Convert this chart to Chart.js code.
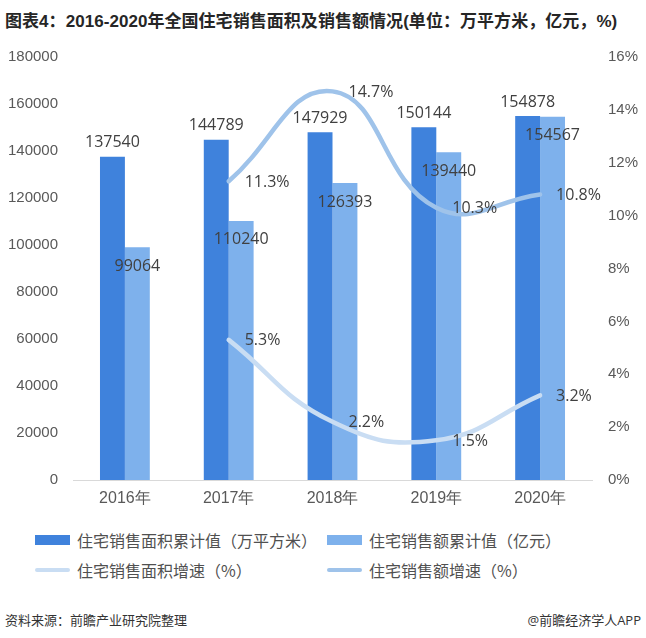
<!DOCTYPE html>
<html>
<head>
<meta charset="utf-8">
<script src="https://cdn.jsdelivr.net/npm/chart.js@4"></script>
<style>
  body { margin: 0; width: 646px; height: 638px; background: #fff; position: relative; overflow: hidden;
         font-family: 'Open Sans', 'Noto Sans CJK SC', sans-serif; }
  #title { position: absolute; left: 5px; top: 7px; font-size: 17px; font-weight: bold; color: #262626;
           font-family: 'Liberation Sans', 'Noto Sans CJK SC', sans-serif; white-space: nowrap; letter-spacing: 0.05px; }
  #wrap { position: absolute; left: 0; top: 32px; width: 646px; height: 488px; }
  #legend { position: absolute; left: 35px; top: 528px; width: 600px; }
  .item { position: absolute; display: flex; align-items: center; font-size: 16px; color: #505050; white-space: nowrap;
          font-family: 'Noto Sans CJK SC', sans-serif; }
  .swatch { width: 35px; margin-right: 7px; }
  #footer { position: absolute; left: 5px; right: 5px; top: 610px; font-size: 13px; color: #333; }
  #footer span:last-child { float: right; }
</style>
</head>
<body>
<div id="title">图表4：2016-2020年全国住宅销售面积及销售额情况(单位：万平方米，亿元，%)</div>
<div id="wrap"><canvas id="chart" width="646" height="488"></canvas></div>
<div id="legend"></div>
<div id="footer"><span>资料来源：前瞻产业研究院整理</span><span>@前瞻经济学人APP</span></div>
<script>
const years = ['2016年', '2017年', '2018年', '2019年', '2020年'];
const areaTotal = [137540, 144789, 147929, 150144, 154878];
const salesTotal = [99064, 110240, 126393, 139440, 154567];
const areaGrowth = [null, 5.3, 2.2, 1.5, 3.2];
const salesGrowth = [null, 11.3, 14.7, 10.3, 10.8];

const darkBlue = '#3f82dc';
const lightBlue = '#7eb1ec';
const areaLine = '#c9ddf3';
const salesLine = '#9fc3ea';

// labels on bars and points
const labelPlugin = {
  id: 'valueLabels',
  afterDatasetsDraw(chart) {
    const c = chart.ctx;
    c.save();
    c.font = '16px "Open Sans", sans-serif';
    c.fillStyle = '#404040';
    c.textBaseline = 'middle';
    chart.data.datasets.forEach((ds, di) => {
      const meta = chart.getDatasetMeta(di);
      meta.data.forEach((el, i) => {
        const v = ds.data[i];
        if (v == null) return;
        if (ds.type === 'bar') {
          c.textAlign = 'center';
          const y = ds.labelPos === 'above' ? el.y - 14 : el.y + 19;
          c.fillText(v, el.x, y);
        } else {
          c.textAlign = 'left';
          c.fillText(v.toFixed(1) + '%', el.x + 16, el.y + 1);
        }
      });
    });
    c.restore();
  }
};

const chart = new Chart(document.getElementById('chart'), {
  data: {
    labels: years,
    datasets: [
      { type: 'bar', label: '住宅销售面积累计值（万平方米）', data: areaTotal, backgroundColor: darkBlue,
        yAxisID: 'y', order: 2, labelPos: 'above', categoryPercentage: 0.48, barPercentage: 1 },
      { type: 'bar', label: '住宅销售额累计值（亿元）', data: salesTotal, backgroundColor: lightBlue,
        yAxisID: 'y', order: 2, labelPos: 'inside', categoryPercentage: 0.48, barPercentage: 1 },
      { type: 'line', label: '住宅销售面积增速（%）', data: areaGrowth, borderColor: areaLine, borderWidth: 4.5,
        tension: 0.45, pointRadius: 0, yAxisID: 'y1', order: 1, borderCapStyle: 'round' },
      { type: 'line', label: '住宅销售额增速（%）', data: salesGrowth, borderColor: salesLine, borderWidth: 4.5,
        tension: 0.45, pointRadius: 0, yAxisID: 'y1', order: 1, borderCapStyle: 'round' }
    ]
  },
  options: {
    responsive: false,
    animation: false,
    layout: { padding: { top: 8, left: 0, right: 0, bottom: 0 } },
    plugins: { legend: { display: false }, tooltip: { enabled: false } },
    scales: {
      x: {
        grid: { display: false, drawTicks: false },
        border: { color: '#d9d9d9', width: 1 },
        ticks: { color: '#595959', font: { size: 16 }, padding: 9 },
        afterFit: s => { s.height = 40; }
      },
      y: {
        position: 'left', min: 0, max: 180000,
        grid: { display: false, drawTicks: false },
        border: { display: false },
        ticks: { stepSize: 20000, color: '#595959', font: { size: 15 }, padding: 15, callback: v => String(v) },
        afterFit: s => { s.width = 73; }
      },
      y1: {
        position: 'right', min: 0, max: 16,
        grid: { display: false, drawTicks: false },
        border: { display: false },
        ticks: { stepSize: 2, color: '#595959', font: { size: 15 }, padding: 16, callback: v => v + '%' },
        afterFit: s => { s.width = 54; }
      }
    }
  },
  plugins: [labelPlugin]
});

// legend in two fixed columns
const legendEl = document.getElementById('legend');
const cols = [0, 292];
chart.data.datasets.forEach((ds, i) => {
  const item = document.createElement('div');
  item.className = 'item';
  item.style.left = cols[i % 2] + 'px';
  item.style.top = (Math.floor(i / 2) * 30) + 'px';
  const sw = document.createElement('div');
  sw.className = 'swatch';
  if (ds.type === 'bar') {
    sw.style.height = '10px';
    sw.style.background = ds.backgroundColor;
  } else {
    sw.style.height = '4px';
    sw.style.borderRadius = '2px';
    sw.style.background = ds.borderColor;
  }
  item.appendChild(sw);
  item.appendChild(document.createTextNode(ds.label));
  legendEl.appendChild(item);
});
</script>
</body>
</html>
